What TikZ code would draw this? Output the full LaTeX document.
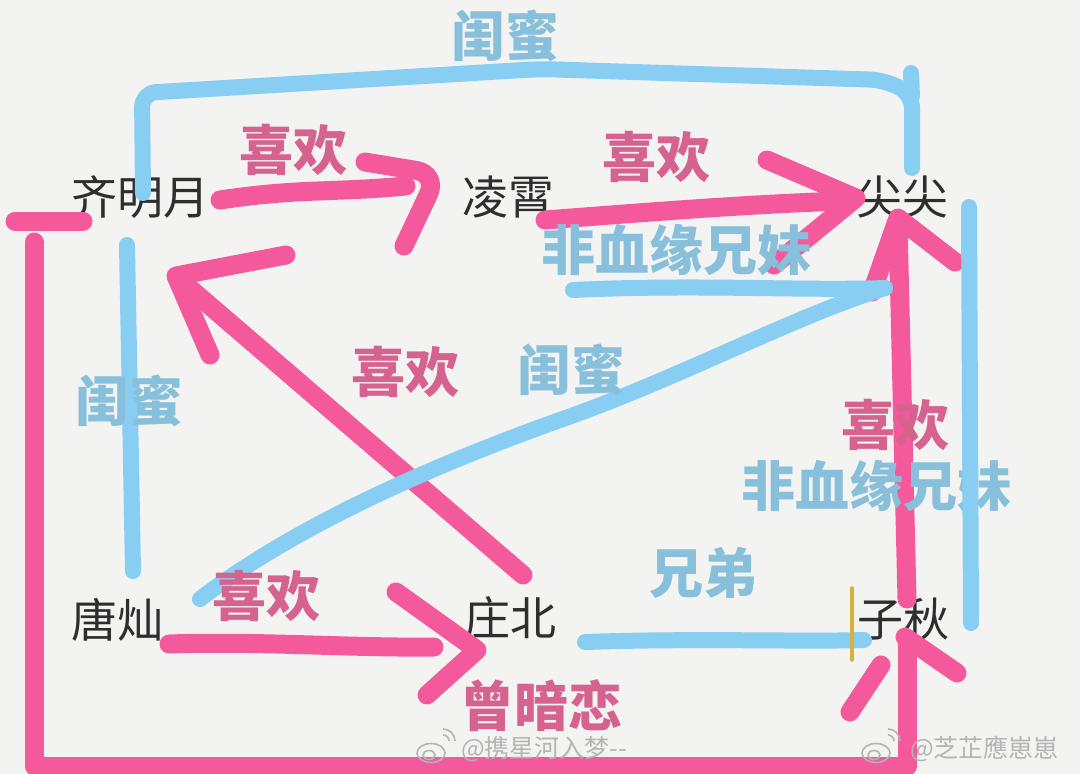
\documentclass[tikz,border=0pt]{standalone}
\usepackage{fontspec}
\setmainfont{Noto Sans CJK SC}
\usetikzlibrary{calc}
\definecolor{bg}{HTML}{F3F3F2}
\definecolor{pinkline}{HTML}{F45A9B}
\definecolor{blueline}{HTML}{88CEF3}
\definecolor{pinktext}{HTML}{D6638F}
\definecolor{bluetext}{HTML}{88C0DB}
\definecolor{nodetext}{HTML}{2E2E2E}
\definecolor{cursor}{HTML}{D4B23C}
\definecolor{wm}{HTML}{B4B4B4}
\tikzset{
  person/.style={font=\fontsize{46}{46}\selectfont, text=nodetext, inner sep=0pt},
  pinkrel/.style={draw=pinkline, line width=19pt, line cap=round, line join=round},
  bluerel/.style={draw=blueline, line width=16pt, line cap=round, line join=round},
  pinklab/.style={font=\fontsize{54}{54}\selectfont\bfseries, text=pinktext, inner sep=0pt},
  bluelab/.style={font=\fontsize{54}{54}\selectfont\bfseries, text=bluetext, inner sep=0pt},
  wmtext/.style={font=\fontsize{25}{25}\selectfont, text=wm, inner sep=0pt},
  wmlogo/.style={draw=wm, line width=1.6pt}
}
\begin{document}
\begin{tikzpicture}[x=1pt,y=-1pt]
\useasboundingbox (0,0) rectangle (1080,774);
\fill[bg] (0,0) rectangle (1080,774);

% persons
\node[person] (qmy) at (140,197) {齐明月};
\node[person] (lx)  at (508,197) {凌霄};
\node[person] (jj)  at (902,197) {尖尖};
\node[person] (tc)  at (117,620) {唐灿};
\node[person] (zb)  at (510,618) {庄北};
\node[person] (zq)  at (903,619) {子秋};

% ---------- pink relations ----------
% 齐明月 -> 凌霄
\draw[pinkrel] ([shift={(80,3)}]qmy.center) .. controls (300,188) and (330,193) .. (406,186);
\draw[pinkrel, rounded corners=22pt] (365,162) -- (438,174) -- ([shift={(-104,49)}]lx.center);
% 凌霄 -> 尖尖
\draw[pinkrel] ([shift={(37,23)}]lx.center) .. controls (650,212) and (750,204) .. (845,201);
\draw[pinkrel] (767,160) -- ([shift={(-46,1)}]jj.center) -- (774,265);
% 庄北 -> 齐明月
\draw[pinkrel] ([shift={(13,-43)}]zb.center) -- (180,280);
\draw[pinkrel] (286,255) -- ([shift={(36,79)}]qmy.center) -- (210,355);
% 唐灿 -> 庄北
\draw[pinkrel] ([shift={(52,24)}]tc.center) .. controls (260,641) and (350,648) .. (434,647);
\draw[pinkrel] (396,592) -- ([shift={(-33,32)}]zb.center) -- (427,695);
% 子秋 -> 尖尖
\draw[pinkrel] ([shift={(4,-20)}]zq.center) -- (898,224);
\draw[pinkrel] (872,292) -- ([shift={(-4,21)}]jj.center) -- (955,262);
% 齐明月 -> 子秋 (曾暗恋)
\draw[pinkrel] ([shift={(-125,24)}]qmy.center) -- (83,221);
\draw[pinkrel] (34,242) -- (34,766) -- (907,766) -- ([shift={(4,20)}]zq.center);
\draw[pinkrel] (957,673) -- ([shift={(2,18)}]zq.center);
\draw[pinkrel] (881,665) -- (850,712);

% ---------- blue relations ----------
% 齐明月 - 尖尖 (闺蜜, top)
\draw[bluerel, rounded corners=14pt] ([shift={(3,-4)}]qmy.center) -- (142,93) -- (540,69) -- (884,80) -- (912,94) -- ([shift={(10,-29)}]jj.center);
\draw[bluerel] (911,73) -- (912,96);
% 凌霄 - 尖尖 (非血缘兄妹)
\draw[bluerel] ([shift={(65,93)}]lx.center) .. controls (700,284) and (800,291) .. ([shift={(-17,91)}]jj.center);
% 唐灿 - 尖尖 (闺蜜, diagonal)
\draw[bluerel] ([shift={(83,-21)}]tc.center) .. controls (290,530) and (420,470) .. (560,420)
   .. controls (680,378) and (790,318) .. ([shift={(-17,91)}]jj.center);
% 齐明月 - 唐灿 (闺蜜)
\draw[bluerel] ([shift={(-13,48)}]qmy.center) -- ([shift={(16,-49)}]tc.center);
% 庄北 - 子秋 (兄弟)
\draw[bluerel] ([shift={(75,24)}]zb.center) .. controls (700,638) and (800,642) .. ([shift={(-39,21)}]zq.center);
\draw[draw=cursor, line width=3.5pt, line cap=round] (852,588) -- (852,660);

% ---------- labels ----------
\node[bluelab] (l1) at (505,36) {闺蜜};
\node[pinklab] (l2) at (293,150) {喜欢};
\node[pinklab] (l3) at (656,157) {喜欢};
\node[bluelab] (l4) at (676,250) {非血缘兄妹};
\node[pinklab] (l5) at (405,372) {喜欢};
\node[bluelab] (l6) at (571,370) {闺蜜};
\node[bluelab] (l7) at (129,401) {闺蜜};
\node[pinklab] (l8) at (895,425) {喜欢};
\node[bluelab] (l9) at (876,486) {非血缘兄妹};
\node[pinklab] (l10) at (266,596) {喜欢};
\node[bluelab] (l11) at (703,573) {兄弟};
\node[pinklab] (l12) at (541,706) {曾暗恋};

% 尖尖 - 子秋 (非血缘兄妹), drawn over its label
\draw[bluerel] ([shift={(67,10)}]jj.center) -- ([shift={(68,4)}]zq.center);

% ---------- watermarks ----------
\draw[wmlogo] (431,753) ellipse (14 and 9.5);
\draw[wmlogo] (429,755) ellipse (6 and 4.5);
\draw[wmlogo] (443,735) arc (270:360:6);
\draw[wmlogo] (443,729) arc (270:360:12);
\node[wmtext, anchor=west] (w1) at (461,749) {@携星河入梦{-}{-}};
\draw[wmlogo] (876,753) ellipse (14 and 9.5);
\draw[wmlogo] (874,755) ellipse (6 and 4.5);
\draw[wmlogo] (888,735) arc (270:360:6);
\draw[wmlogo] (888,729) arc (270:360:12);
\node[wmtext, anchor=west] (w2) at (910,749) {@芝芷應崽崽};
\end{tikzpicture}
\end{document}
